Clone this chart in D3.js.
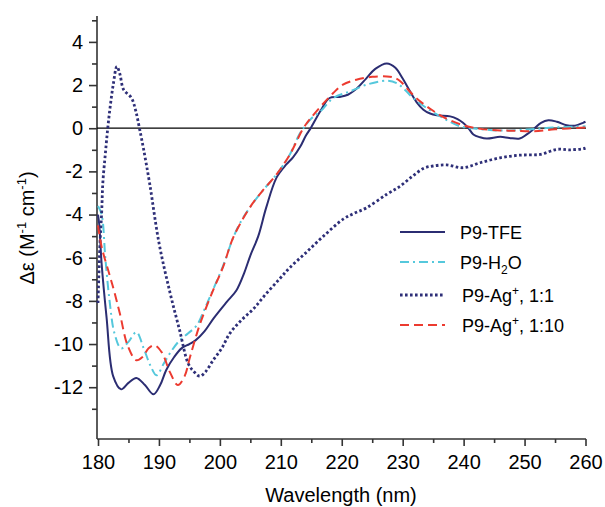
<!DOCTYPE html>
<html>
<head>
<meta charset="utf-8">
<script src="https://cdn.jsdelivr.net/npm/d3@7"></script>
<style>
  body { margin: 0; background: #fff; }
  svg text { font-family: "Liberation Sans", Arial, Helvetica, sans-serif; fill: #000; }
</style>
</head>
<body>
<svg width="605" height="507"></svg>
<script>
// wavelength (nm), delta epsilon
const tfe = [
  [180, -4.0], [180.2, -4.45], [180.6, -6.3], [181.4, -8.75], [182.5, -11.5], [183.8, -12.1],
  [185.0, -11.8], [186.3, -11.57], [187.7, -11.9], [189.1, -12.33], [190.2, -11.9],
  [191.2, -11.2], [192.5, -10.6], [193.7, -10.2], [195.0, -10.0], [196.0, -9.83],
  [197.5, -9.4], [199.0, -8.8], [201.1, -8.06], [202.7, -7.52], [204.0, -6.7],
  [205.0, -5.9], [206.3, -5.0], [207.6, -3.68], [209.3, -2.29], [210.9, -1.68],
  [212.0, -1.35], [213.2, -0.85], [214.1, -0.35], [214.9, 0.0], [216.5, 0.8],
  [218.0, 1.4], [219.6, 1.45], [221.0, 1.55], [222.5, 1.85], [224.0, 2.3],
  [225.5, 2.75], [227.4, 3.0], [228.8, 2.8], [230.0, 2.3], [231.2, 1.71],
  [232.3, 1.2], [233.4, 0.86], [234.5, 0.68], [235.6, 0.6], [237.8, 0.55],
  [239.0, 0.42], [239.9, 0.25], [240.8, 0.0], [241.6, -0.29], [242.7, -0.42],
  [243.8, -0.48], [246.0, -0.4], [247.5, -0.45], [249.2, -0.48], [250.3, -0.3],
  [251.4, -0.06], [252.7, 0.25], [253.9, 0.37], [255.3, 0.3], [256.9, 0.14],
  [258.3, 0.12], [259.6, 0.25], [260, 0.3]
];
const h2o = [
  [180, -3.6], [180.6, -4.0], [181.2, -6.0], [181.9, -8.0], [182.7, -9.5], [183.8, -10.2],
  [185.0, -9.9], [186.3, -9.45], [187.5, -10.2], [188.6, -11.0], [189.6, -11.45],
  [190.8, -10.9], [192.1, -10.3], [193.4, -9.83], [194.8, -9.5], [196.2, -9.14],
  [197.5, -8.37], [199.0, -7.4], [200.5, -6.4], [202.2, -5.06], [203.5, -4.3],
  [204.9, -3.68], [207.0, -2.9], [209.3, -2.14], [211.5, -1.21], [213.0, -0.3],
  [213.7, 0.0], [215.0, 0.45], [216.5, 0.78], [218.6, 1.4], [221.4, 1.71],
  [224.1, 2.02], [227.4, 2.2], [229.0, 2.09], [230.3, 1.8], [231.7, 1.4],
  [233.9, 0.94], [236.6, 0.48], [239.4, 0.09], [242.1, -0.02], [246.0, -0.11],
  [250.4, -0.06], [254.7, 0.03], [260, 0.09]
];
const ag1 = [
  [180, -8.1], [180.3, -5.5], [180.6, -3.9], [180.8, -2.5], [181.2, -1.2], [181.6, 0.0],
  [182.0, 1.0], [182.5, 2.02], [183.1, 2.86], [183.6, 2.5], [184.2, 1.79], [185.5, 1.4],
  [186.2, 0.8], [186.8, 0.0], [187.5, -1.0], [188.5, -2.6], [190.0, -5.3], [191.8, -7.6],
  [193.4, -9.37], [194.8, -10.9], [195.8, -11.3], [196.7, -11.49], [197.6, -11.3],
  [198.9, -10.75], [200.3, -10.2], [201.6, -9.52], [203.5, -8.9], [205.5, -8.37],
  [207.5, -7.7], [209.8, -6.98], [211.5, -6.45], [214.0, -5.8], [217.0, -5.0],
  [220.3, -4.2], [222.0, -3.95], [224.1, -3.68], [227.4, -3.06], [229.6, -2.68],
  [231.7, -2.2], [233.5, -1.85], [235.0, -1.75], [237.2, -1.7], [239.9, -1.83],
  [242.7, -1.6], [246.0, -1.37], [249.2, -1.25], [252.6, -1.21], [255.3, -0.98],
  [257.5, -1.0], [259.6, -0.95], [260, -0.92]
];
const ag10 = [
  [180, -4.5], [180.6, -5.5], [181.9, -6.8], [182.7, -7.6], [183.6, -8.6], [184.9, -10.1],
  [186.3, -10.75], [187.3, -10.6], [188.3, -10.2], [189.3, -10.06], [190.5, -10.4],
  [191.8, -11.3], [193.1, -11.9], [194.2, -11.5], [195.1, -10.6], [196.7, -9.1],
  [198.9, -7.5], [200.5, -6.45], [202.2, -5.06], [204.9, -3.68], [207.0, -2.9],
  [209.3, -2.14], [211.5, -1.21], [213.7, 0.0], [215.0, 0.5], [218.6, 1.63],
  [220.2, 2.02], [222.4, 2.25], [225.0, 2.38], [227.4, 2.4], [228.5, 2.35],
  [229.6, 2.18], [231.0, 1.75], [232.3, 1.38], [234.5, 0.9], [236.6, 0.53],
  [239.9, 0.14], [242.8, -0.03], [246.0, -0.1], [248.5, -0.12], [251.4, -0.14],
  [255.0, -0.05], [260, 0.03]
];

const xMajor = [180, 190, 200, 210, 220, 230, 240, 250, 260];
const xMinor = [185, 195, 205, 215, 225, 235, 245, 255];
const yMajor = [-12, -10, -8, -6, -4, -2, 0, 2, 4];
const yMinor = [-13, -11, -9, -7, -5, -3, -1, 1, 3, 5];

const series = [
  { name: "tfe", data: tfe, color: "#2b2d72", width: 2, dash: null },
  { name: "h2o", data: h2o, color: "#55c8dc", width: 2, dash: "9,4,2,4" },
  { name: "ag1", data: ag1, color: "#2e2f78", width: 2.8, dash: "2.6,2.4" },
  { name: "ag10", data: ag10, color: "#ec3b30", width: 2, dash: "9,5" }
];

const svg = d3.select("svg");
const x = d3.scaleLinear().domain([180, 260]).range([98, 585.5]);
const y = d3.scaleLinear().domain([-14.4, 5.2]).range([439, 16]);
const axisX = 97;

// axes
const gx = svg.append("g").attr("transform", `translate(0,439)`);
gx.call(d3.axisBottom(x).tickValues(xMajor).tickSize(7).tickSizeOuter(0).tickPadding(9));
gx.append("g").call(d3.axisBottom(x).tickValues(xMinor).tickSize(4).tickFormat(""))
  .select(".domain").remove();
gx.select(".domain").attr("d", `M${axisX},0H586`);

const gy = svg.append("g").attr("transform", `translate(${axisX},0)`);
gy.call(d3.axisLeft(y).tickValues(yMajor).tickSize(8).tickSizeOuter(0).tickPadding(6)
  .tickFormat(d => d < 0 ? "-" + Math.abs(d) : d));
gy.append("g").call(d3.axisLeft(y).tickValues(yMinor).tickSize(5).tickFormat(""))
  .select(".domain").remove();
gy.select(".domain").attr("d", "M0,16V439");

svg.selectAll(".tick text").attr("font-size", 20).attr("font-family", "Liberation Sans, Arial, sans-serif");
svg.selectAll(".domain, .tick line").attr("stroke", "#333").attr("stroke-width", 1.6);

// zero line
svg.append("line")
  .attr("x1", axisX).attr("x2", 586)
  .attr("y1", y(0)).attr("y2", y(0))
  .attr("stroke", "#000").attr("stroke-width", 1.3);

const line = d3.line()
  .x(d => x(d[0]))
  .y(d => y(d[1]))
  .curve(d3.curveCatmullRom.alpha(0.5));

series.forEach(s => {
  svg.append("path")
    .attr("d", line(s.data))
    .attr("fill", "none")
    .attr("stroke", s.color)
    .attr("stroke-width", s.width)
    .attr("stroke-dasharray", s.dash);
});

// axis titles
svg.append("text")
  .attr("x", 341).attr("y", 502)
  .attr("text-anchor", "middle")
  .attr("font-size", 20)
  .text("Wavelength (nm)");

const yt = svg.append("text")
  .attr("transform", "translate(34,228) rotate(-90)")
  .attr("text-anchor", "middle")
  .attr("font-size", 20);
yt.append("tspan").text("\u0394\u03b5 (M");
yt.append("tspan").attr("dy", -8).attr("font-size", 13).text("-1");
yt.append("tspan").attr("dy", 8).text(" cm");
yt.append("tspan").attr("dy", -8).attr("font-size", 13).text("-1");
yt.append("tspan").attr("dy", 8).text(")");

// legend
const legendRows = [
  { s: series[0], y: 232, tx: 460, parts: [["P9-TFE"]] },
  { s: series[1], y: 262, tx: 460, parts: [["P9-H"], ["2", "sub"], ["O"]] },
  { s: series[2], y: 295, tx: 462, parts: [["P9-Ag"], ["+", "sup"], [", 1:1"]] },
  { s: series[3], y: 325, tx: 462, parts: [["P9-Ag"], ["+", "sup"], [", 1:10"]] }
];
legendRows.forEach(r => {
  svg.append("line")
    .attr("x1", 400).attr("x2", 445)
    .attr("y1", r.y).attr("y2", r.y)
    .attr("stroke", r.s.color)
    .attr("stroke-width", r.s.width)
    .attr("stroke-dasharray", r.s.dash);
  const t = svg.append("text")
    .attr("x", r.tx).attr("y", r.y + 7)
    .attr("font-size", 18);
  let shift = 0;
  r.parts.forEach(p => {
    const ts = t.append("tspan").text(p[0]);
    let target = 0;
    if (p[1] === "sub") { target = 5; ts.attr("font-size", 12); }
    if (p[1] === "sup") { target = -7; ts.attr("font-size", 12); }
    ts.attr("dy", target - shift);
    shift = target;
  });
});
</script>
</body>
</html>
